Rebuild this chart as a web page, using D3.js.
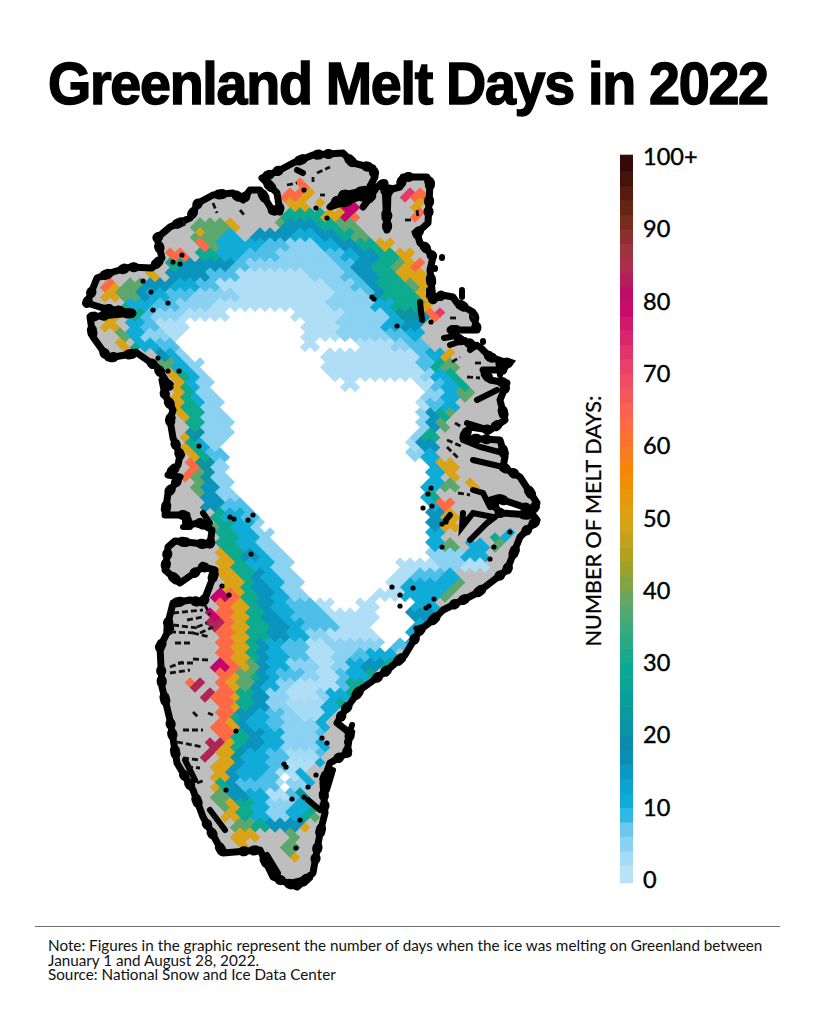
<!DOCTYPE html>
<html>
<head>
<meta charset="utf-8">
<title>Greenland Melt Days in 2022</title>
<script src="https://cdn.jsdelivr.net/npm/d3@7"></script>
<style>
  body { margin: 0; background: #fff; }
  svg { display: block; }
</style>
</head>
<body>
<svg id="chart" width="815" height="1024"></svg>
<script>
// colour ramp of the legend
var rampDays = [0, 4, 7, 10, 14, 18, 24, 30, 38, 44, 50, 56, 63, 70, 80, 86, 92, 100];
var rampColors = ["#c2e6f8", "#9bd8f4", "#6cc7ee", "#10b0dc", "#0a9fcb", "#0a88ae", "#0a9c9c", "#0cab90", "#5ca86c", "#a8a020", "#dba316", "#f58a00", "#ff6a45", "#f0476a", "#c4046c", "#a6354a", "#6f2a12", "#2a0505"];
var legendTicks = [0, 10, 20, 30, 40, 50, 60, 70, 80, 90, 100];

// melt days. One row per line: row, then col,days pairs,
// a run lasts until the next col. days 0 = no melt, null = bare land
var meltRows = [
  [18.5, 30,63,31,null],
  [19.5, 28.5,63,30.5,50,31.2,null,40.5,72,41.5,63,42.8,null],
  [20.5, 29,50,31,null,31.8,50,32.5,null,33.6,80,35.8,null,41.5,50,42.5,null],
  [21.5, 28.5,30,32.2,50,34.2,80,35.2,63,35.8,null,41.5,63,42.5,null],
  [22.5, 19.3,38,22.7,null,22.8,50,23.8,null,27.7,38,28.3,16,32,30,34,38,36,null],
  [23.5, 19.3,38,19.8,50,20.4,38,22.3,11,24,null,25.3,16,29.3,11,32,16,33.7,30,35.3,38,36.7,null,42,72,43,null],
  [24.5, 19.7,63,20.6,38,22,11,26.2,8,29,5,32,11,34,16,35.7,30,37.7,50,39.5,null],
  [25.5, 17,63,19,null,19.7,30,22,11,24.3,8,28,5,32.7,8,34.3,11,36,16,37.7,30,40,50,41.3,null],
  [26.5, 16.7,30,18.3,16,23.3,8,24.7,5,33.7,8,35.3,16,37.3,30,39.3,38,40.5,50,41.5,63,42.5,null],
  [27.5, 14.8,50,15.7,null,16.7,16,20.7,8,23.7,2,31,5,34.3,8,35.7,16,37.7,30,40,50,43,null],
  [28.5, 10.3,63,11.5,50,12,null,12.3,38,14.3,16,17.3,11,19.7,8,22,2,32.7,5,35.3,8,36.7,16,38,30,40.7,38,42,50,43.2,null],
  [29.5, 10.3,50,11.7,null,12,38,14,16,15,11,16.7,8,19.3,5,24,2,33.3,5,36.7,8,37.3,16,38.3,30,41.7,50,43,null],
  [30.5, 12.2,30,13,11,15.3,8,18,5,21.3,2,33,5,37.3,11,39.3,30,42.3,50,43.2,null],
  [31.5, 10.3,50,11.7,null,13.3,30,14.3,8,15.5,5,18.3,2,22.7,0,29.3,2,34.3,5,38.7,11,39.7,22,42.7,63,43.8,72,44.4,null],
  [32.5, 10.3,50,11.7,null,13,11,14.2,8,16,2,18.7,0,30.3,2,34,5,38.3,11,40.3,16,42.3,null],
  [33.5, 12,38,12.8,null,13,11,14.5,5,17,2,18.3,0,30.3,2,34,5,39,8,40.7,11,42.5,null],
  [34.5, 12,50,13,null,13.2,30,13.8,11,15.7,8,17.7,0,30.3,2,32,0,36,2,39.5,5,41,8,43,null],
  [35.5, 15.7,16,17,11,18,5,19,0,32.5,2,42,8,43,11,44.5,50,45.5,null],
  [36.5, 16,38,17.3,11,18.7,5,20.5,0,32.3,2,42,8,43.5,30,44.5,38,45.8,null],
  [37.5, 16.8,50,17.8,30,19,11,20,5,21,0,33,2,42.3,5,43.5,11,44.7,30,45.7,null],
  [38.5, 17.2,50,18.2,30,19,11,19.8,5,21.2,0,34.5,2,35.8,0,41.8,2,43.2,8,44.5,11,45.8,30,46.7,null],
  [39.5, 17.2,50,18.3,30,19.2,11,19.8,5,21.7,0,42.3,5,44.3,11,46,38,47.2,null],
  [40.5, 17.3,50,18.5,30,19.8,11,20.3,5,22.3,0,41.8,2,43,8,44.3,11,45.8,null],
  [41.5, 17.8,50,18.7,30,20.3,5,22.8,0,42,5,42.8,16,44,30,45,38,45.5,null],
  [42.5, 18.8,30,20.3,5,23.3,0,41.8,5,42.7,16,44,38,45,null],
  [43.5, 18.3,50,18.8,22,20.3,5,23.2,0,41.3,5,42.2,30,44,null],
  [44.5, 18.3,50,18.8,30,20,11,21,5,22.2,0,41,3,42,16,44,null],
  [45.5, 18.7,50,20,30,21,8,23,0,40.8,5,42.5,11,44,null],
  [46.5, 18.7,63,20,22,21.3,5,22.8,0,42.7,11,43.7,50,44.8,null,45,50,46,null],
  [47.5, 18.5,63,19.5,38,20.5,22,21.3,5,23,0,42.7,11,44.5,null,44.7,50,45.8,null],
  [48.5, 19.5,38,20.5,16,21.7,5,23.3,0,42.5,11,44.3,38,45.7,null,46.8,50,47.7,null],
  [49.5, 19.7,38,20.5,16,22,5,24,0,42.3,11,43,30,44,null],
  [50.5, 20.2,16,22.3,8,24.7,0,42.8,11,44,63,45.2,null],
  [51.5, 21.5,30,22.5,11,24.5,8,26,0,42.8,16,44.5,50,45.8,null],
  [52.5, 21.2,38,22,30,23.3,11,25.3,5,26.5,0,43,16,44.3,50,45.7,null],
  [53.5, 21.7,30,23.7,11,25.7,5,27.2,0,43,11,44.3,null,49.3,30,50,null,50.5,11,51.5,null],
  [54.5, 21.8,30,24,11,26,5,28,0,43,11,44.3,38,45.8,null,47,11,48.7,null,49.3,38,50.3,null],
  [55.5, 22,50,23,30,24.3,16,25.7,11,27,5,29,0,43,5,46.3,11,48.7,8,49,null],
  [56.5, 22,50,23.5,30,24.7,11,27.3,5,29.3,0,39.7,2,44,5,46.5,2,49,null],
  [57.5, 22,50,24,30,25.2,16,26.5,11,28,5,30,0,39.3,2,41.3,8,44.5,11,46,null],
  [58.5, 22.2,50,24.3,30,25.5,16,27,11,28.3,5,30.3,0,38.7,2,40.3,11,45.3,38,46.3,null],
  [59.5, 21.5,80,22.7,63,23.7,50,24.5,30,25.7,16,27.3,11,28.7,5,31,0,37.3,2,40.3,11,44.3,38,45.3,null],
  [60.5, 22,63,23.5,50,24.7,30,25.7,16,27.3,11,29,8,31.7,2,33.5,0,36,2,37.8,0,41.2,11,43.7,null],
  [61.5, 21,80,22,63,23.3,50,24.8,30,26.3,16,28,11,29.3,8,32.7,2,37.8,0,41,16,43.3,null],
  [62.5, 21,84,22.2,63,23.5,50,25,30,26.7,16,28.8,11,30.3,8,33.7,2,37.5,0,41.5,11,42.5,null],
  [63.5, 21.8,63,23.3,50,25,30,27,16,28.7,11,31,5,33,2,38,0,41,11,42,null],
  [64.5, 21.8,63,23.3,50,25,30,25.8,16,27,11,28.3,8,30.7,2,33,5,38.5,0,39.5,8,41,11,42,null],
  [65.5, 21.8,63,23.3,50,25,30,25.7,16,27,11,28.7,8,31,2,33.3,5,35.3,8,37,11,40,null],
  [66.5, 21.5,80,22.8,63,23.8,50,24.8,38,25.8,16,27,11,28.7,5,32,2,33.3,5,35,11,36.5,16,38.5,30,39.5,null],
  [67.5, 21.8,63,23.3,50,24,38,25.5,30,26,16,26.8,11,28,8,30.3,5,31.7,2,33.7,8,35,11,37,30,38,null],
  [68.5, 19,63,19.5,84,20.5,null,21.8,63,23,50,24,38,25.5,16,26.5,11,28,5,29.5,2,33.7,8,35,30,36.3,null],
  [69.5, 20.5,84,21.5,63,23.3,50,24,30,25.3,16,27,5,28.7,2,31.7,5,33,11,35,30,35.7,null],
  [70.5, 21.8,63,23.5,50,24,30,25.3,16,27,5,29,3,32.3,11,34,30,35,null],
  [71.5, 21.7,63,23.3,30,24,16,25.3,11,26.7,8,28.3,5,30,3,32.3,11,33.3,null],
  [72.5, 21.3,63,23,50,23.7,16,25,11,26.7,8,28.3,5,32,11,33,null],
  [73.5, 22,63,23.3,30,24.7,16,26.3,11,28.3,5,31.7,8,32.3,null],
  [74.5, 21,84,22.2,50,23.3,30,24.5,16,26.2,11,28.3,5,32,11,32.8,null],
  [75.5, 20.3,84,21.3,null,21.8,50,23.3,22,24.5,11,26.7,8,29,3,31.7,8,32.3,null],
  [76.5, 21.3,50,23.2,16,24.5,11,26.7,8,28.7,2,31.3,null,31.7,11,32.5,null],
  [77.5, 21.2,50,23,16,24,11,26.3,8,27.8,2,28.2,0,28.8,2,30,11,31,null],
  [78.5, 21.2,50,21.8,30,23,16,23.8,8,27.7,2,28.2,0,28.8,5,30.7,11,31.5,null],
  [79.5, 21.5,38,23,16,24.7,11,27,2,29,8,30,22,31,null],
  [80.5, 21.8,38,23,50,23.7,30,25.3,11,26.7,5,29.3,11,31,30,31.7,null],
  [81.5, 22.5,50,23.7,30,25.3,11,27,5,29,11,30.3,30,31.3,38,32,null],
  [82.5, 23.2,38,25.3,30,27,16,30.2,50,31,null],
  [83.5, 23.2,50,26,null,28.7,38,30,null],
  [84.5, 23.7,50,24.7,null,28.5,38,29.8,null],
  [85.5, 28.7,38,29.3,50,29.8,null]
];

// coastline, col,row, clockwise from the west cape
var coast = [
  [8.7,30.3],[9.7,27.8],[11.3,27.2],[13,26.7],[15.2,26.8],[16.2,25.8],[15.7,23.8],[17,22.7],[19,21.8],[19.8,20.3],
  [21.3,19.5],[23.3,19.3],[24.3,20],[25,19],[26,19],[27.2,21],[28,21.2],[27.7,19.3],[26.2,17.8],[28,17],[29.3,16.3],
  [31.3,15.5],[34.3,15.3],[35.3,16.3],[37.3,16.8],[37.5,17.7],[36.8,19],[34.3,19.5],[33,20.7],[36,19.7],[37.2,19.5],
  [36.3,20.7],[37.7,18.7],[38.5,18.3],[38.7,23],[38.8,19],[40,18.7],[40.3,17.7],[42.7,17.7],[43,18.3],[42.8,22.3],
  [41.7,23.3],[42,24.3],[42.5,24.7],[43.3,25.7],[43,27],[43.3,30],[44.2,29.5],[45.3,29.7],[45.7,30.3],[47.3,31.2],
  [47.7,33],[46.5,33],[45,33],[46,34],[48,34.7],[49,35.7],[50.8,36.3],[50.3,37],[48.3,37],[49,38],[50.7,38.3],
  [50,40],[50.5,42],[49,43],[47,42.7],[46.3,43.8],[50,44],[50.5,45.7],[50.3,46.7],[52,47.7],[53.7,50.3],[53.3,51],
  [49.7,49.8],[49,50],[50,51.3],[53.3,51.5],[53.7,52],[52,53.7],[50.7,57],[47.7,59.3],[45.7,60.3],[44.3,61],[43.3,62],
  [42,63],[40.5,65.5],[38.5,67.2],[36,69],[34.5,71],[33.7,72.3],[35,73.3],[34.7,75.3],[33,76.3],[32.3,78.3],[32.5,81.3],
  [32,83.3],[31.3,87.3],[29.7,88.7],[27.3,87.7],[26,85],[22.3,85.3],[20.3,81.7],[19.3,79],[17.7,76.3],[17,72],
  [16.2,68.7],[16,64.7],[17,62.7],[16.7,62.7],[17.3,60.3],[19,60],[20.3,60.3],[21.2,58],[21.5,57],[20.3,56.7],
  [18,58.3],[16.5,57],[16.7,55.7],[16.8,54.7],[17.5,54.1],[19.5,54.3],[21,54.5],[21.2,53],[20,52.3],[18.7,52.5],
  [18.7,51.5],[16.5,51.5],[16.8,49.3],[18,47.7],[16.8,47.5],[17.8,46.5],[18,45.5],[17.3,43.8],[17,42],[17.3,41],
  [16.5,39.5],[16.2,38],[17,38.7],[15.7,36.7],[13.7,35.3],[10.8,35.8],[9.3,33.7],[9,31.7],[13.3,31.3],[10.3,30.8]
];

// thick inland fjords and blobs, each a col,row polyline
var fjords = [
  [[47.7,40],[49.7,39]], [[46.7,42.3],[49,43]], [[46.3,44],[48,44.7],[50.3,45.3]], [[47.3,46],[50.3,46.7]],
  [[47.3,49],[48.3,49.3],[49,50.7]], [[46.3,51.3],[46.2,52.7],[47.3,51.3],[49.3,51.7]], [[47,54],[48.7,52.3],[49.5,51.7]],
  [[44.6,52],[45,51.5]], [[20.3,51.3],[21,52.3]], [[18.3,52.7],[19,52.7]], [[29.7,17],[30.3,17.3]],
  [[21,58.7],[20.5,60]], [[33.7,20.4],[35,19.8]], [[42,30.2],[42.2,32]], [[44.4,33.8],[45.5,33.6]], [[47,35],[47.7,34.5]],
  [[49.8,36],[50,37.5]], [[35.2,72.5],[34.7,74.2]], [[33.3,77],[32.7,79]], [[30.8,80],[32,81]],
  [[26.7,85.5],[27.8,87.3]], [[29,88.3],[31,87.8]], [[21,81],[22.5,83]], [[18.5,76],[19.5,78]], [[45,34.5],[46.5,34]],
  [[44.2,25.7],[44.2,25.8]], [[43.5,26.8],[43.5,26.9]], [[46.2,29],[46.2,29.7]], [[48.3,34.1],[48.3,34.2]], [[42.9,29],[42.9,29.6]]
];
// thin dashed specks of the ice mask
var specks = [
  [[17,63.2],[19.7,63.3]], [[17.5,64.3],[19.2,64.3]], [[19.3,63.3],[21,63.7]], [[19.3,65.9],[20.8,66]], [[17.8,66.3],[19.3,66.3]],
  [[17,67.3],[19,67]], [[19.3,71.2],[19.8,71.7]], [[18.3,73],[20.3,73]], [[17.7,74.2],[20.3,74.7]], [[18.3,75.8],[20,76]],
  [[18.7,76.7],[20,76.8]], [[19.7,78.3],[20.5,78]], [[20.8,71.3],[21.3,71.5]], [[19.7,62.7],[20.7,62.3]], [[17,66.7],[18.3,66.2]],
  [[20,63.3],[21.3,62.7]], [[17.3,61.3],[20.3,61]], [[18.7,62],[20.3,61.7]], [[17.3,62.5],[19.7,62.8]], [[20.5,60.5],[21,61.5]],
  [[31.3,17.7],[31.3,18.2]], [[31.7,17.3],[33,16.7]], [[32,19.5],[32.5,19.5]], [[21.3,20.3],[21.7,21.3]], [[18.3,22],[18.5,22.8]],
  [[24,21],[24.5,21.6]], [[28.7,18.5],[29.7,18.3]], [[40.5,22],[41.3,22]], [[41.7,21],[41.8,21.7]],
  [[45,31.8],[45.7,31.8]], [[46.7,37.7],[48,37.8]], [[47.5,36.3],[48.2,36.3]], [[45.5,42.3],[46.2,42.7]], [[44.7,44],[46.3,44.7]],
  [[44.7,44.7],[45.8,45.8]], [[45.8,49.3],[47,49.5]], [[47,31.5],[47.7,32]], [[45.2,36.2],[46,35.7]]
];

// stations
var stationCol = [30.4,31.6,32.7,37.2,37.4,39.7,43.1,18.2,17.3,18,14.3,15.1,16.8,15.3,13.6,15.8,16.8,17.9,19.9,23,23.4,24.8,25.3,25.1,22.2,22.9,43.1,42.8,42.3,43.2,44.2,44.6,44.2,49.4,49,51,39.2,40,40,41.3,43.4,42.9,42.6,41.6,23.6,22.6,36.2,32.2,32.7,28.4,28.6,31.6,30.8,29.2,30,29.6,30.4];
var stationRow = [19,20.8,21.8,29.7,29.9,32.6,32.2,25.5,26.2,26.4,28.1,29.2,30.3,31,35.1,35.8,37.1,37.1,44.6,51.7,51.9,52,51.5,55.4,58.6,59.5,48.8,49.4,50.8,50.6,52.4,52.2,54.7,54.7,55.9,53.2,58.7,59.5,60.6,58.8,59.9,60.6,60.8,62.8,73.1,79,68.7,73.8,74.3,76.4,76.7,77.5,78.7,79.9,82,84.8,79.7];

var chartTitle = "Greenland Melt Days in 2022";
var axisTitle = "NUMBER OF MELT DAYS:";
var noteLines = [
  "Note: Figures in the graphic represent the number of days when the ice was melting on Greenland between",
  "January 1 and August 28, 2022.",
  "Source: National Snow and Ice Data Center"
];

var svg = d3.select("#chart");
var x = d3.scaleLinear().domain([0, 81.5]).range([0, 815]);
var y = d3.scaleLinear().domain([0, 102.4]).range([0, 1024]);
var color = d3.scaleLinear().domain(rampDays).range(rampColors).clamp(true);
var coastLine = d3.line().x(function(d) { return x(d[0]); }).y(function(d) { return y(d[1]); });

// squeeze the bold title to the width of the original wordmark
var title = svg.append("text")
    .style("font", "bold 60px 'Liberation Sans'")
    .style("letter-spacing", "-1.4px")
    .style("stroke", "#000").style("stroke-width", 1.5)
    .text(chartTitle);
var titleWidth = title.node().getComputedTextLength();
title.attr("transform", "translate(48,104) scale(" + (720 / titleWidth) + ",1)");

// land
svg.append("clipPath").attr("id", "land")
  .append("path").attr("d", coastLine(coast) + "Z");
svg.append("path").attr("d", coastLine(coast) + "Z").attr("fill", "#bebebe");

// expand each row into two staggered lines of diamonds
var cells = [];
meltRows.forEach(function(row) {
  var runs = row.slice(1);
  [0, 1].forEach(function(line) {
    for (var c = 8; c < 56; c++) {
      var col = c + line * 0.5;
      for (var i = 0; i < runs.length - 2; i += 2) {
        if (col >= runs[i] && col < runs[i + 2] && runs[i + 1] !== null) {
          cells.push({ col: col, row: row[0] - 0.25 + line * 0.5, days: runs[i + 1] });
        }
      }
    }
  });
});

var half = 0.53;
svg.append("g").attr("clip-path", "url(#land)")
  .selectAll("path").data(cells).enter().append("path")
    .attr("d", function(d) {
      return coastLine([[d.col - half, d.row], [d.col, d.row - half], [d.col + half, d.row], [d.col, d.row + half]]) + "Z";
    })
    .attr("fill", function(d) { return d.days === 0 ? "#fff" : color(d.days); });

// coast and fjords, the beaded second stroke roughens the edge
svg.append("path").attr("d", coastLine(coast) + "Z")
    .attr("fill", "none").attr("stroke", "#000").attr("stroke-width", 7)
    .attr("stroke-linejoin", "round");
svg.append("path").attr("d", coastLine(coast) + "Z")
    .attr("fill", "none").attr("stroke", "#000").attr("stroke-width", 10)
    .attr("stroke-linecap", "round").attr("stroke-dasharray", "2 9 1 23 4 15");
svg.append("g").selectAll("path").data(fjords).enter().append("path")
    .attr("d", coastLine).attr("fill", "none").attr("stroke", "#000")
    .attr("stroke-width", 6).attr("stroke-linecap", "round");
svg.append("g").selectAll("path").data(specks).enter().append("path")
    .attr("d", coastLine).attr("fill", "none").attr("stroke", "#111")
    .attr("stroke-width", 2.8).attr("stroke-dasharray", "6 3");
svg.append("g").selectAll("circle").data(stationCol).enter().append("circle")
    .attr("cx", function(d) { return x(d); })
    .attr("cy", function(d, i) { return y(stationRow[i]); })
    .attr("r", 2.6).attr("fill", "#000");

// legend
var legendY = d3.scaleLinear().domain([0, 100]).range([880, 157]);
var legend = svg.append("g");
legend.selectAll("rect").data(d3.range(0, 100, 2)).enter().append("rect")
    .attr("x", 620).attr("width", 13)
    .attr("y", function(d) { return legendY(d + 2) - 0.3 - (d === 98 ? 2 : 0); })
    .attr("height", function(d) { return legendY(d) - legendY(d + 2) + 0.6 + (d === 0 ? 3 : 0) + (d === 98 ? 2 : 0); })
    .attr("fill", function(d) { return color(d + 1); });

var legendAxis = d3.axisRight(legendY)
    .tickValues(legendTicks)
    .tickSize(0).tickPadding(10)
    .tickFormat(function(d) { return d === 100 ? "100+" : d; });
var axisG = svg.append("g").attr("transform", "translate(633,0)").call(legendAxis);
axisG.select(".domain").remove();
axisG.selectAll("text").style("font", "23.5px Lato")
    .attr("fill", "#000").attr("stroke", "#000").attr("stroke-width", 0.4);

svg.append("text")
    .attr("transform", "translate(601,521) rotate(-90)")
    .attr("text-anchor", "middle")
    .style("font", "21.6px Lato").attr("fill", "#000")
    .attr("stroke", "#000").attr("stroke-width", 0.3)
    .text(axisTitle);

// footer
svg.append("line").attr("x1", 35).attr("x2", 780).attr("y1", 926.5).attr("y2", 926.5)
    .attr("stroke", "#6e6e6e").attr("stroke-width", 1.2);
svg.append("text")
    .style("font", "15.25px Lato").attr("fill", "#111")
  .selectAll("tspan").data(noteLines).enter().append("tspan")
    .attr("x", 48).attr("y", function(d, i) { return 951 + i * 14.6; })
    .text(function(d) { return d; });
</script>
</body>
</html>
